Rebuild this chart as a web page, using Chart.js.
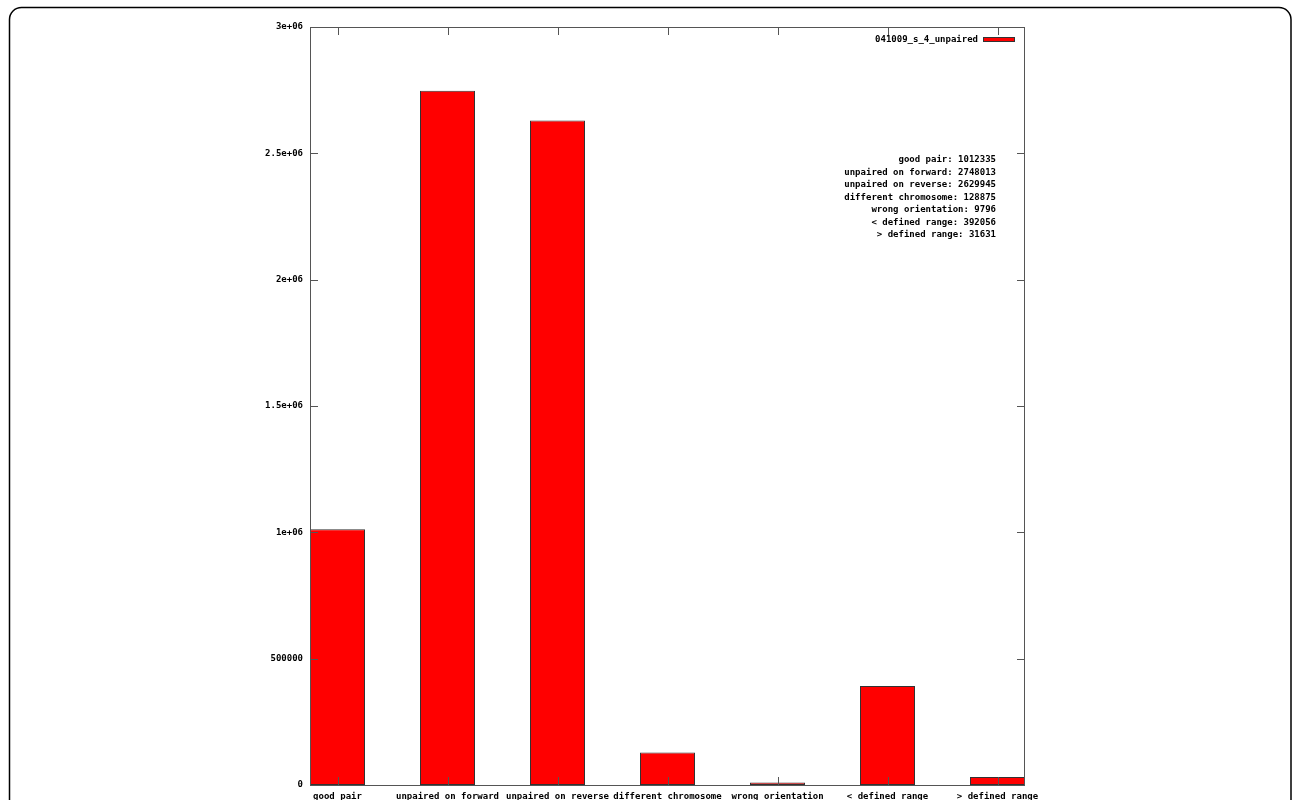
<!DOCTYPE html>
<html><head><meta charset="utf-8">
<script src="https://cdn.jsdelivr.net/npm/chart.js@4.4.1/dist/chart.umd.min.js"></script>
<style>html,body{margin:0;padding:0;background:#fff;overflow:hidden}canvas{display:block}</style>
</head><body>
<canvas id="c" width="1292" height="800"></canvas>
<script>
// Read-pair classification counts
const categories = ['good pair', 'unpaired on forward', 'unpaired on reverse', 'different chromosome', 'wrong orientation', '< defined range', '> defined range'];
const counts = [1012335, 2748013, 2629945, 128875, 9796, 392056, 31631];
const seriesName = '041009_s_4_unpaired';
const yTickValues = [0, 500000, 1000000, 1500000, 2000000, 2500000, 3000000];
const yTickLabels = ['0', '500000', '1e+06', '1.5e+06', '2e+06', '2.5e+06', '3e+06'];

const FONT = 'bold 9px "DejaVu Sans Mono", "Liberation Mono", monospace';
const TICK = 8;

// Plot frame with inward (mirrored) tick marks, key, count summary and page border
const decorations = {
  id: 'decorations',
  afterDatasetsDraw(chart) {
    const {ctx, chartArea: a, scales: {x, y}} = chart;
    ctx.save();
    ctx.strokeStyle = '#555';
    ctx.lineWidth = 1;
    ctx.strokeRect(a.left + 0.5, a.top + 0.5, a.right - a.left - 1, a.bottom - a.top);
    ctx.beginPath();
    yTickValues.forEach(v => {
      const py = Math.round(y.getPixelForValue(v)) + 0.5;
      ctx.moveTo(a.left, py); ctx.lineTo(a.left + TICK, py);
      ctx.moveTo(a.right, py); ctx.lineTo(a.right - TICK, py);
    });
    categories.forEach((c, i) => {
      const px = Math.round(x.getPixelForValue(i)) + 0.5;
      ctx.moveTo(px, a.bottom); ctx.lineTo(px, a.bottom - TICK);
      ctx.moveTo(px, a.top); ctx.lineTo(px, a.top + TICK);
    });
    ctx.stroke();

    // key
    const ds = chart.data.datasets[0];
    ctx.font = FONT;
    ctx.fillStyle = '#000';
    ctx.textAlign = 'right';
    ctx.textBaseline = 'middle';
    ctx.fillText(ds.label, a.right - 47, a.top + 13);
    ctx.fillStyle = ds.backgroundColor;
    ctx.fillRect(a.right - 42, a.top + 10, 32, 5);
    ctx.strokeStyle = '#333';
    ctx.strokeRect(a.right - 41.5, a.top + 10.5, 31, 4);

    // count summary
    ctx.fillStyle = '#000';
    categories.forEach((c, i) => {
      ctx.fillText(c + ': ' + counts[i], a.right - 29, a.top + 133 + i * 12.5);
    });

    // page border
    ctx.strokeStyle = '#000';
    ctx.lineWidth = 1.5;
    ctx.beginPath();
    ctx.roundRect(9.5, 7.5, 1281.5, 830, 12);
    ctx.stroke();
    ctx.restore();
  }
};

new Chart(document.getElementById('c'), {
  type: 'bar',
  data: {
    datasets: [{
      label: seriesName,
      data: categories.map((c, i) => ({x: i, y: counts[i]})),
      backgroundColor: '#ff0000',
      borderColor: '#333',
      borderWidth: 1,
      borderSkipped: false,
      barPercentage: 0.5,
      categoryPercentage: 1.0
    }]
  },
  options: {
    responsive: false,
    animation: false,
    layout: {padding: {left: 0, top: 27, right: 267, bottom: 0}},
    plugins: {legend: {display: false}, tooltip: {enabled: false}},
    scales: {
      x: {
        type: 'linear',
        offset: false,
        min: -0.25,
        max: 6.25,
        grid: {display: false, drawTicks: false, offset: false},
        border: {display: false},
        afterBuildTicks: s => { s.ticks = categories.map((c, i) => ({value: i})); },
        afterFit: s => { s.height = 15; },
        ticks: {
          autoSkip: false, maxRotation: 0, minRotation: 0, padding: 6,
          color: '#000', font: {family: '"DejaVu Sans Mono", monospace', size: 9, weight: 'bold'},
          callback: v => categories[v]
        }
      },
      y: {
        min: 0,
        max: 3000000,
        grid: {display: false, drawTicks: false},
        border: {display: false},
        afterBuildTicks: s => { s.ticks = yTickValues.map(v => ({value: v})); },
        afterFit: s => { s.width = 310; },
        ticks: {
          padding: 7,
          color: '#000', font: {family: '"DejaVu Sans Mono", monospace', size: 9, weight: 'bold'},
          callback: (v, i) => yTickLabels[i]
        }
      }
    }
  },
  plugins: [decorations]
});
</script>
</body></html>
